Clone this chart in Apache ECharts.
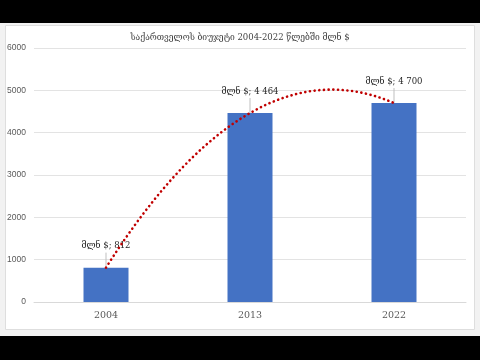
<!DOCTYPE html>
<html><head><meta charset="utf-8">
<script src="https://cdn.jsdelivr.net/npm/echarts@6/dist/echarts.min.js"></script>
<style>html,body{margin:0;padding:0;background:#000}#c{width:480px;height:360px}</style>
</head><body><div id="c"></div>
<script>
const categories = ['2004', '2013', '2022'];
const budget = [812, 4464, 4700];
const yTicks = [0, 1000, 2000, 3000, 4000, 5000, 6000];
const titleText = 'საქართველოს ბიუჯეტი 2004-2022 წლებში მლნ $';
const labelPrefix = 'მლნ $; ';

// Polynomial (order 2) least-squares trendline fitted to the budget values, as in the source chart
function polyFit2(ys) {
  const n = ys.length; let S = [0,0,0,0,0], T = [0,0,0];
  ys.forEach((y, i) => { const x = i; for (let k = 0; k < 5; k++) S[k] += Math.pow(x, k); for (let k = 0; k < 3; k++) T[k] += y * Math.pow(x, k); });
  const A = [[S[0],S[1],S[2],T[0]],[S[1],S[2],S[3],T[1]],[S[2],S[3],S[4],T[2]]];
  for (let i = 0; i < 3; i++) { for (let j = i + 1; j < 3; j++) { const f = A[j][i] / A[i][i]; for (let k = i; k < 4; k++) A[j][k] -= f * A[i][k]; } }
  const c = [0,0,0];
  for (let i = 2; i >= 0; i--) { let s = A[i][3]; for (let k = i + 1; k < 3; k++) s -= A[i][k] * c[k]; c[i] = s / A[i][i]; }
  return x => c[0] + c[1] * x + c[2] * x * x;
}
const fit = polyFit2(budget);
const trend = [];
for (let i = 0; i <= 100; i++) { const x = (budget.length - 1) * i / 100; trend.push([x, fit(x)]); }

function fmt(v) { return String(v).replace(/\B(?=(\d{3})+(?!\d))/g, ' '); }

const chart = echarts.init(document.getElementById('c'));
chart.setOption({
  animation: false,
  graphic: [
    { type: 'rect', z: -10, shape: { x: 0, y: 23, width: 480, height: 313 }, style: { fill: '#f2f2f2' }, silent: true },
    { type: 'rect', z: -9, shape: { x: 5.5, y: 25.5, width: 469, height: 304 }, style: { fill: '#ffffff', stroke: '#dedede', lineWidth: 1 }, silent: true }
  ],
  title: {
    text: titleText, left: 'center', top: 28,
    textStyle: { fontFamily: 'DejaVu Serif', fontSize: 8.5, fontWeight: 'normal', color: '#404040' }
  },
  grid: { left: 34, right: 14, top: 48, bottom: 58 },
  xAxis: [{
    type: 'category', data: categories,
    axisLine: { show: true, lineStyle: { color: '#d9d9d9' } },
    axisTick: { show: false },
    axisLabel: { margin: 9, fontFamily: 'DejaVu Serif', fontSize: 9.5, color: '#595959' }
  }, {
    type: 'value', min: -0.5, max: 2.5, show: false
  }],
  yAxis: {
    type: 'value', min: yTicks[0], max: yTicks[yTicks.length - 1], interval: 1000,
    axisLine: { show: false }, axisTick: { show: false },
    splitLine: { lineStyle: { color: '#e3e3e3' } },
    axisLabel: { margin: 8, fontFamily: 'Liberation Sans', fontSize: 8.5, color: '#595959', formatter: v => String(v) }
  },
  series: [{
    type: 'bar', data: budget, barWidth: 45, xAxisIndex: 0,
    itemStyle: { color: '#4472c4' },
    z: 2
  }, {
    type: 'custom', xAxisIndex: 0, data: budget.map((v, i) => [i, v]), z: 3, silent: true,
    renderItem: (params, api) => {
      const p = api.coord([api.value(0), api.value(1)]);
      return { type: 'group', children: [
        { type: 'line', shape: { x1: p[0], y1: p[1], x2: p[0], y2: p[1] - 15 }, style: { stroke: '#bfbfbf', lineWidth: 1 } },
        { type: 'text', x: p[0], y: p[1] - 17, style: { text: labelPrefix + fmt(api.value(1)), align: 'center', verticalAlign: 'bottom', fontFamily: 'DejaVu Serif', fontSize: 8.5, fill: '#262626' } }
      ] };
    }
  }, {
    type: 'line', data: trend, xAxisIndex: 1, showSymbol: false, symbol: 'none',
    lineStyle: { color: '#c00000', width: 2.6, type: [0.1, 4.6], cap: 'round' },
    z: 5, silent: true
  }]
});
</script></body></html>
